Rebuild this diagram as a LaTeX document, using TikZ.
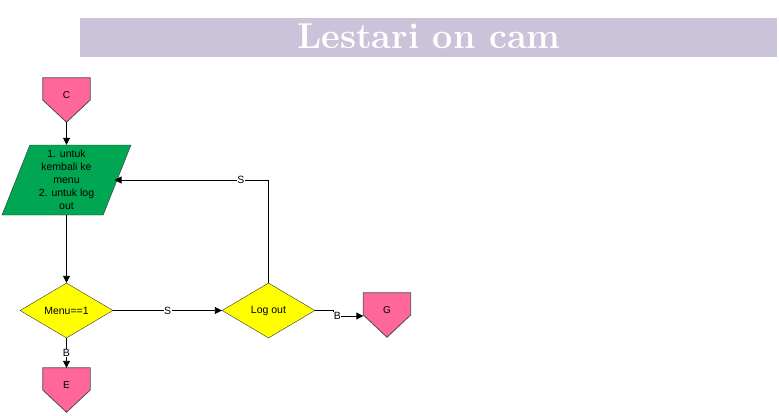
\documentclass[tikz,border=0pt]{standalone}
\usepackage{fontspec}
\newfontfamily\arialfont{Liberation Sans}
\usepackage{tikz}
\usetikzlibrary{shapes.geometric, arrows.meta, calc, positioning, backgrounds}

\definecolor{titlebg}{HTML}{CBC3DA}
\definecolor{conpink}{HTML}{FF6699}
\definecolor{iogreen}{HTML}{00A651}
\definecolor{decyellow}{HTML}{FFFF00}

\tikzset{
    offpage/.style={rectangle, minimum width=47pt, minimum height=44pt, inner sep=0pt, text depth=10pt,
        font=\arialfont\fontsize{10}{12}\selectfont},
    pentline/.style={draw=black!70, fill=conpink, line width=0.8pt},
    decision/.style={diamond, draw=black!80, fill=decyellow, minimum width=93pt, minimum height=55pt,
        inner sep=0pt, font=\arialfont\fontsize{10.5}{12}\selectfont},
    inout/.style={trapezium, trapezium left angle=65, trapezium right angle=115, trapezium stretches body=true,
        draw=black!80, fill=iogreen, minimum width=129pt, minimum height=70pt, inner sep=0pt,
        align=center, font=\arialfont\fontsize{10.5}{13}\selectfont},
    flow/.style={draw, line width=0.9pt, -{Triangle[length=7pt,width=7pt]}},
    lbl/.style={fill=white, inner sep=0.5pt, font=\arialfont\fontsize{10.5}{12}\selectfont}
}

\begin{document}
\begin{tikzpicture}[x=1pt, y=-1pt]
    \useasboundingbox (0,0) rectangle (779,415);

    % Title
    \fill[titlebg] (80,18) rectangle (777,57);
    \node[text=white, anchor=base, inner sep=0pt, font=\bfseries\fontsize{36}{36}\selectfont] (title) at (429,48) {Lestari on cam};

    % Shapes
    \node[offpage] (conC) at (66.5,100) {C};
    \node[inout] (menuIn) at (66.5,180) {1. untuk\\kembali ke\\menu\\2. untuk log\\out};
    \node[decision] (cekMenu) at (66.5,310.5) {Menu==1};
    \node[decision] (logOut) at (268.5,310.5) {Log out};
    \node[offpage] (conE) at (66.5,390) {E};
    \node[offpage] (conG) at (387,315) {G};

    % Off-page connector outlines
    \begin{scope}[on background layer]
        \foreach \n in {conC, conE, conG}
            \path[pentline] (\n.north west) -- (\n.north east) -- (\n.east) -- (\n.south) -- (\n.west) -- cycle;
    \end{scope}

    % Connections
    \draw[flow] (conC.south) -- (menuIn.north);
    \draw[flow] (menuIn.south) -- (cekMenu.north);
    \draw[flow] (cekMenu.east) -- node[lbl] {S} (logOut.west);
    \draw[flow] (cekMenu.south) -- node[lbl] {B} (conE.north);

    % Log out back to menu
    \draw[flow] (logOut.north) |- node[lbl, pos=0.59] {S} ($(menuIn.center)+(48,0)$);

    % Log out to G
    \draw[flow] (logOut.east) -- ++(18,0) |- node[lbl, pos=0.57] {B} ($(conG.west)+(0,1)$);

\end{tikzpicture}
\end{document}
